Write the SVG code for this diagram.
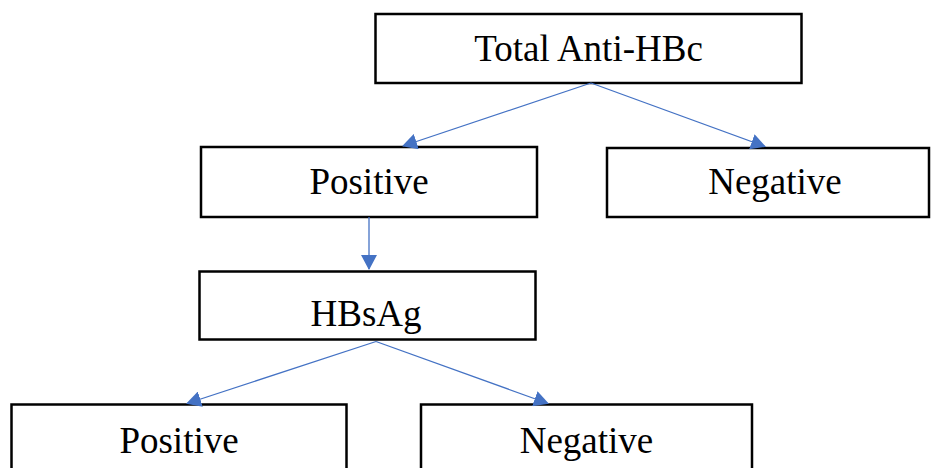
<svg xmlns="http://www.w3.org/2000/svg" width="931" height="468" viewBox="0 0 931 468">
<style>
.box{fill:#fff;stroke:#000;stroke-width:2.5}
.lbl{font-family:"Liberation Serif","Times New Roman",serif;font-size:37px;fill:#000;text-anchor:middle}
.conn{fill:none;stroke:#4472C4;stroke-width:1.3}
</style>
<defs>
<marker id="ah" markerUnits="userSpaceOnUse" markerWidth="15" markerHeight="16" viewBox="0 0 15 16" refX="14" refY="8" orient="auto">
<path d="M0,0 L15,8 L0,16 Z" fill="#4472C4"/>
</marker>
</defs>
<rect width="931" height="468" fill="#fff"/>
<g id="n-total">
<rect class="box" x="375.5" y="14" width="426" height="69"/>
<text class="lbl" x="588.5" y="61">Total Anti-HBc</text>
</g>
<g id="n-pos1">
<rect class="box" x="201" y="147" width="336" height="70"/>
<text class="lbl" x="369" y="194">Positive</text>
</g>
<g id="n-neg1">
<rect class="box" x="607" y="148" width="322" height="69"/>
<text class="lbl" x="775" y="194">Negative</text>
</g>
<g id="n-hbsag">
<rect class="box" x="199.5" y="271.5" width="336" height="68"/>
<text class="lbl" x="366" y="326">HBsAg</text>
</g>
<g id="n-pos2">
<rect class="box" x="11.5" y="404.5" width="335" height="70"/>
<text class="lbl" x="179" y="453">Positive</text>
</g>
<g id="n-neg2">
<rect class="box" x="421" y="404.5" width="331" height="70"/>
<text class="lbl" x="586.5" y="453">Negative</text>
</g>
<g id="connectors">
<path class="conn" d="M591,83 L403,146" marker-end="url(#ah)"/>
<path class="conn" d="M591,83 L765,146.5" marker-end="url(#ah)"/>
<path class="conn" d="M369,217 L369,269" marker-end="url(#ah)"/>
<path class="conn" d="M376,341.5 L187,403.5" marker-end="url(#ah)"/>
<path class="conn" d="M376,341.5 L548,403.5" marker-end="url(#ah)"/>
</g>
</svg>
